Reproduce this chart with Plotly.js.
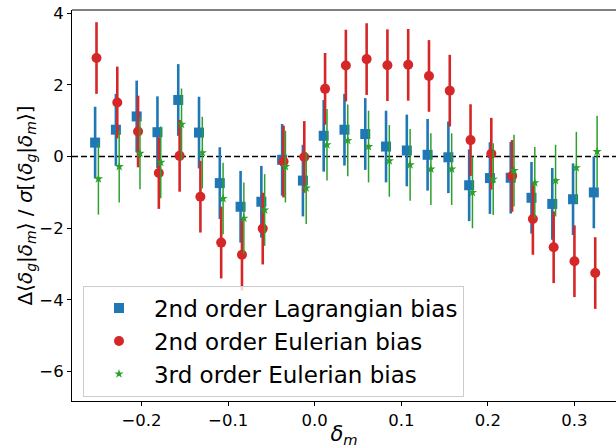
<!DOCTYPE html>
<html>
<head>
<meta charset="utf-8">
<script src="https://cdn.plot.ly/plotly-3.0.1.min.js"></script>
<style>html,body{margin:0;padding:0;background:#fff;}#chart{width:616px;height:448px;}</style>
</head>
<body>
<div id="chart"></div>
<script>
// Bin centres of delta_m
var deltaM = [-0.252, -0.228, -0.204, -0.180, -0.156, -0.132, -0.108, -0.084, -0.060, -0.036,
              -0.012, 0.012, 0.036, 0.060, 0.084, 0.108, 0.132, 0.156, 0.180, 0.204,
              0.228, 0.252, 0.276, 0.300, 0.324];
// 2nd order Lagrangian bias
var lagr2 = [0.39, 0.75, 1.12, 0.68, 1.58, 0.67, -0.74, -1.40, -1.26, -0.09,
             -0.67, 0.58, 0.75, 0.63, 0.28, 0.17, 0.05, -0.02, -0.80, -0.60,
             -0.59, -1.15, -1.32, -1.19, -1.00];
var lagr2Err = [1,1,1,1,1,1,1,1,1,1,1,1,1,1,1,1,1,1,1,1,1,1,1,1,1];
// 2nd order Eulerian bias
var eul2 = [2.75, 1.51, 0.70, -0.46, 0.02, -1.12, -2.40, -2.74, -2.01, -0.14,
            -0.01, 1.89, 2.54, 2.72, 2.55, 2.56, 2.25, 1.84, 0.46, 0.08,
            -0.54, -1.74, -2.53, -2.92, -3.25];
var eul2Err = [1,1,1,1,1,1,1,1,1,1,1,1,1,1,1,1,1,1,1,1,1,1,1,1,1];
// 3rd order Eulerian bias
var eul3 = [-0.62, -0.28, 0.09, -0.16, 0.90, 0.11, -1.17, -1.72, -1.49, -0.28,
            -0.88, 0.33, 0.45, 0.28, -0.12, -0.23, -0.35, -0.35, -1.00, -0.63,
            -0.39, -0.73, -0.67, -0.31, 0.14];
var eul3Err = [1,1,1,1,1,1,1,1,1,1,1,1,1,1,1,1,1,1,1,1,1,1,1,1,1];

var names = ['2nd order Lagrangian bias', '2nd order Eulerian bias', '3rd order Eulerian bias'];
var xTickVals = [-0.2, -0.1, 0.0, 0.1, 0.2, 0.3];
var yTickVals = [-6, -4, -2, 0, 2, 4];

var shiftX = function(arr, d){ return arr.map(function(v){ return v + d; }); };

var traces = [
  {x: shiftX(deltaM, -0.0016), y: lagr2, name: names[0], type: 'scatter', mode: 'markers',
   marker: {symbol: 'square', size: 10, color: '#1f77b4'},
   error_y: {type: 'data', array: lagr2Err, visible: true, color: '#1f77b4', thickness: 2.6, width: 0}},
  {x: deltaM, y: eul2, name: names[1], type: 'scatter', mode: 'markers',
   marker: {symbol: 'circle', size: 10, color: '#d62728'},
   error_y: {type: 'data', array: eul2Err, visible: true, color: '#d62728', thickness: 2.6, width: 0}},
  {x: shiftX(deltaM, 0.0022), y: eul3, name: names[2], type: 'scatter', mode: 'markers',
   marker: {symbol: 'star', size: 7, color: '#2ca02c'},
   error_y: {type: 'data', array: eul3Err, visible: true, color: '#2ca02c', thickness: 1.5, width: 0}}
];

var fontFam = 'DejaVu Sans, sans-serif';
var layout = {
  width: 616, height: 448,
  margin: {l: 72, r: 0, t: 10, b: 47},
  paper_bgcolor: '#fff', plot_bgcolor: '#fff',
  font: {family: fontFam, color: '#000', size: 16},
  showlegend: true,
  xaxis: {
    range: [-0.2803, 0.348], tickvals: xTickVals, tickformat: '.1f',
    showgrid: false, zeroline: false, showline: true, linecolor: '#000', linewidth: 1,
    ticks: 'outside', ticklen: 4, tickwidth: 1, tickcolor: '#000',
    tickfont: {size: 16.5, family: fontFam},
    title: {text: '<i>δ</i><sub><i>m</i></sub>', font: {size: 21, family: fontFam}, standoff: 4}
  },
  yaxis: {
    range: [-6.82, 4.09], tickvals: yTickVals,
    showgrid: false, zeroline: false, showline: true, linecolor: '#000', linewidth: 1,
    ticks: 'outside', ticklen: 4, tickwidth: 1, tickcolor: '#000',
    tickfont: {size: 16.5, family: fontFam},
    title: {text: 'Δ⟨<i>δ</i><sub><i>g</i></sub>|<i>δ</i><sub><i>m</i></sub>⟩ / <i>σ</i>[⟨<i>δ</i><sub><i>g</i></sub>|<i>δ</i><sub><i>m</i></sub>⟩]',
            font: {size: 20, family: fontFam}, standoff: 0}
  },
  shapes: [
    {type: 'line', xref: 'paper', yref: 'y', x0: 0, x1: 1, y0: 0, y1: 0,
     line: {color: '#000', width: 1.5, dash: '6px,3px'}, layer: 'below'},
    {type: 'line', xref: 'paper', yref: 'paper', x0: 0, x1: 1, y0: 1, y1: 1,
     line: {color: '#000', width: 1}}
  ],
  legend: {
    x: 0.0202, y: 0.295, xanchor: 'left', yanchor: 'top',
    bgcolor: 'rgba(255,255,255,0.8)', bordercolor: '#cccccc', borderwidth: 1,
    font: {size: 23, family: fontFam, color: '#000'},
    itemwidth: 60
  }
};

Plotly.newPlot('chart', traces, layout, {displayModeBar: false, staticPlot: true});
</script>
</body>
</html>
